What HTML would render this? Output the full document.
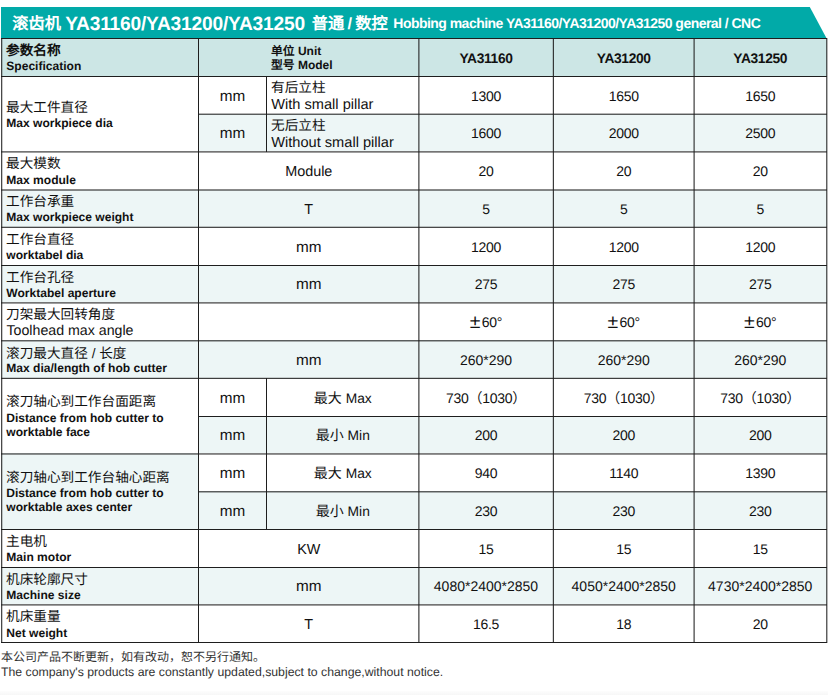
<!DOCTYPE html>
<html lang="zh-CN"><head><meta charset="utf-8"><title>Hobbing machine YA31160/YA31200/YA31250</title>
<style>
html,body{margin:0;padding:0;}
body{width:828px;height:695px;position:relative;overflow:hidden;background:#fff;font-family:"Liberation Sans",sans-serif;color:#111;text-rendering:geometricPrecision;}
.bg{position:absolute;}
.hl{position:absolute;height:1px;background:#1c1c1c;}
.vl{position:absolute;width:1px;background:#1c1c1c;}
.t{position:absolute;white-space:nowrap;line-height:1;}
.c{text-align:center;}
.zh{font-size:13.65px;}
.en{font-size:12.05px;font-weight:bold;}
.r{font-size:14.4px;}
.n{font-size:14px;letter-spacing:-.28px;}
.b{font-weight:bold;}
#title{position:absolute;left:1px;top:7px;width:826px;height:31px;background:#01aaa8;clip-path:polygon(0 0,808.8px 0,825.4px 100%,0 100%);color:#fff;font-weight:bold;white-space:nowrap;}
#title span{position:absolute;line-height:1;}
</style></head>
<body>
<div id="title"><span style="left:11.3px;top:9px;font-size:16.2px">滚齿机</span><span style="left:64.2px;top:8px;font-size:19.2px;letter-spacing:-.2px">YA31160/YA31200/YA31250</span><span style="left:310.8px;top:9px;font-size:16.3px;word-spacing:-1.3px">普通 / 数控</span><span style="left:392.3px;top:9px;font-size:14px;letter-spacing:-.53px">Hobbing machine YA31160/YA31200/YA31250 general / CNC</span></div>
<div class="bg" style="left:1px;top:38px;width:826px;height:38px;background:#cce6e5"></div>
<div class="bg" style="left:198px;top:114px;width:629px;height:37px;background:#edf6f6"></div>
<div class="bg" style="left:1px;top:190px;width:826px;height:37px;background:#edf6f6"></div>
<div class="bg" style="left:1px;top:265px;width:826px;height:37px;background:#edf6f6"></div>
<div class="bg" style="left:1px;top:340px;width:826px;height:38px;background:#edf6f6"></div>
<div class="bg" style="left:198px;top:416px;width:629px;height:37px;background:#edf6f6"></div>
<div class="bg" style="left:1px;top:491px;width:826px;height:38px;background:#edf6f6"></div>
<div class="bg" style="left:1px;top:567px;width:826px;height:37px;background:#edf6f6"></div>
<div class="bg" style="left:1px;top:453px;width:197px;height:76px;background:#edf6f6"></div>
<div class="hl" style="left:1px;top:38px;width:826px;background:rgba(30,30,30,1)"></div>
<div class="hl" style="left:1px;top:76px;width:826px;background:rgba(30,30,30,1)"></div>
<div class="hl" style="left:198px;top:113px;width:629px;background:rgba(30,30,30,0.33)"></div>
<div class="hl" style="left:198px;top:114px;width:629px;background:rgba(30,30,30,0.72)"></div>
<div class="hl" style="left:1px;top:151px;width:826px;background:rgba(30,30,30,0.62)"></div>
<div class="hl" style="left:1px;top:152px;width:826px;background:rgba(30,30,30,0.43)"></div>
<div class="hl" style="left:1px;top:189px;width:826px;background:rgba(30,30,30,0.53)"></div>
<div class="hl" style="left:1px;top:190px;width:826px;background:rgba(30,30,30,0.53)"></div>
<div class="hl" style="left:1px;top:226px;width:826px;background:rgba(30,30,30,0.24)"></div>
<div class="hl" style="left:1px;top:227px;width:826px;background:rgba(30,30,30,0.81)"></div>
<div class="hl" style="left:1px;top:265px;width:826px;background:rgba(30,30,30,1)"></div>
<div class="hl" style="left:1px;top:302px;width:826px;background:rgba(30,30,30,0.62)"></div>
<div class="hl" style="left:1px;top:303px;width:826px;background:rgba(30,30,30,0.43)"></div>
<div class="hl" style="left:1px;top:340px;width:826px;background:rgba(30,30,30,0.71)"></div>
<div class="hl" style="left:1px;top:341px;width:826px;background:rgba(30,30,30,0.34)"></div>
<div class="hl" style="left:1px;top:377px;width:826px;background:rgba(30,30,30,0.19)"></div>
<div class="hl" style="left:1px;top:378px;width:826px;background:rgba(30,30,30,0.86)"></div>
<div class="hl" style="left:198px;top:416px;width:629px;background:rgba(30,30,30,1)"></div>
<div class="hl" style="left:1px;top:453px;width:826px;background:rgba(30,30,30,0.57)"></div>
<div class="hl" style="left:1px;top:454px;width:826px;background:rgba(30,30,30,0.48)"></div>
<div class="hl" style="left:198px;top:491px;width:629px;background:rgba(30,30,30,0.71)"></div>
<div class="hl" style="left:198px;top:492px;width:629px;background:rgba(30,30,30,0.34)"></div>
<div class="hl" style="left:1px;top:529px;width:826px;background:rgba(30,30,30,1)"></div>
<div class="hl" style="left:1px;top:567px;width:826px;background:rgba(30,30,30,1)"></div>
<div class="hl" style="left:1px;top:604px;width:826px;background:rgba(30,30,30,0.62)"></div>
<div class="hl" style="left:1px;top:605px;width:826px;background:rgba(30,30,30,0.43)"></div>
<div class="hl" style="left:1px;top:642px;width:826px;background:rgba(30,30,30,1)"></div>
<div class="vl" style="left:1px;top:38px;height:605px;background:rgba(30,30,30,0.81)"></div>
<div class="vl" style="left:2px;top:38px;height:605px;background:rgba(30,30,30,0.24)"></div>
<div class="vl" style="left:198px;top:38px;height:605px;background:rgba(30,30,30,1)"></div>
<div class="vl" style="left:266px;top:76px;height:76px;background:rgba(30,30,30,1)"></div>
<div class="vl" style="left:266px;top:378px;height:152px;background:rgba(30,30,30,1)"></div>
<div class="vl" style="left:418px;top:38px;height:605px;background:rgba(30,30,30,0.64)"></div>
<div class="vl" style="left:419px;top:38px;height:605px;background:rgba(30,30,30,0.41)"></div>
<div class="vl" style="left:552px;top:38px;height:605px;background:rgba(30,30,30,0.18)"></div>
<div class="vl" style="left:553px;top:38px;height:605px;background:rgba(30,30,30,0.87)"></div>
<div class="vl" style="left:693px;top:38px;height:605px;background:rgba(30,30,30,0.43)"></div>
<div class="vl" style="left:694px;top:38px;height:605px;background:rgba(30,30,30,0.62)"></div>
<div class="vl" style="left:826px;top:38px;height:605px;background:rgba(30,30,30,0.72)"></div>
<div class="vl" style="left:827px;top:38px;height:605px;background:rgba(30,30,30,0.33)"></div>
<div class="t zh b" style="left:6px;top:44px;">参数名称</div>
<div class="t en" style="left:6.3px;top:60px;">Specification</div>
<div class="t zh" style="left:6px;top:100.65px;">最大工件直径</div>
<div class="t en" style="left:6.3px;top:117px;">Max workpiece dia</div>
<div class="t zh" style="left:6px;top:157.25px;">最大模数</div>
<div class="t en" style="left:6.3px;top:174px;">Max module</div>
<div class="t zh" style="left:6px;top:194.8px;">工作台承重</div>
<div class="t en" style="left:6.3px;top:211px;">Max workpiece weight</div>
<div class="t zh" style="left:6px;top:232.75px;">工作台直径</div>
<div class="t en" style="left:6.3px;top:249px;">worktabel dia</div>
<div class="t zh" style="left:6px;top:270.5px;">工作台孔径</div>
<div class="t en" style="left:6.3px;top:287px;">Worktabel aperture</div>
<div class="t zh" style="left:6px;top:307.6px;">刀架最大回转角度</div>
<div class="t r" style="left:6.5px;top:324px;font-size:14.2px">Toolhead max angle</div>
<div class="t zh" style="left:6px;top:347px;">滚刀最大直径 / 长度</div>
<div class="t en" style="left:6.3px;top:362px;">Max dia/length of hob cutter</div>
<div class="t zh" style="left:6px;top:395.35px;">滚刀轴心到工作台面距离</div>
<div class="t en" style="left:6.3px;top:412px;">Distance from hob cutter to</div>
<div class="t en" style="left:6.3px;top:426px;">worktable face</div>
<div class="t zh" style="left:6px;top:470.85px;">滚刀轴心到工作台轴心距离</div>
<div class="t en" style="left:6.3px;top:487px;">Distance from hob cutter to</div>
<div class="t en" style="left:6.3px;top:501px;">worktable axes center</div>
<div class="t zh" style="left:6px;top:534.75px;">主电机</div>
<div class="t en" style="left:6.3px;top:551px;">Main motor</div>
<div class="t zh" style="left:6px;top:572.5px;">机床轮廓尺寸</div>
<div class="t en" style="left:6.3px;top:589px;">Machine size</div>
<div class="t zh" style="left:6px;top:610.25px;">机床重量</div>
<div class="t en" style="left:6.3px;top:627px;">Net weight</div>
<div class="t b" style="left:271px;top:44.8px;font-size:12px"><span style="font-size:11.8px">单位</span> Unit</div>
<div class="t b" style="left:271px;top:58.9px;font-size:12px"><span style="font-size:11.8px">型号</span> Model</div>
<div class="t c b" style="left:419px;width:134px;top:52px;font-size:13.8px;letter-spacing:-.35px">YA31160</div>
<div class="t c b" style="left:554px;width:139.5px;top:52px;font-size:13.8px;letter-spacing:-.35px">YA31200</div>
<div class="t c b" style="left:694.5px;width:131.5px;top:52px;font-size:13.8px;letter-spacing:-.35px">YA31250</div>
<div class="t c r" style="left:199px;width:67px;top:89px;font-size:15.3px">mm</div>
<div class="t c r" style="left:199px;width:67px;top:126px;font-size:15.3px">mm</div>
<div class="t zh" style="left:271px;top:80.95px;">有后立柱</div>
<div class="t r" style="left:271.3px;top:98px;font-size:14.6px">With small pillar</div>
<div class="t zh" style="left:271px;top:118.7px;">无后立柱</div>
<div class="t r" style="left:271.3px;top:136px;font-size:14.6px">Without small pillar</div>
<div class="t c n" style="left:419px;width:134px;top:89px;">1300</div>
<div class="t c n" style="left:554px;width:139.5px;top:89px;">1650</div>
<div class="t c n" style="left:694.5px;width:131.5px;top:89px;">1650</div>
<div class="t c n" style="left:419px;width:134px;top:126px;">1600</div>
<div class="t c n" style="left:554px;width:139.5px;top:126px;">2000</div>
<div class="t c n" style="left:694.5px;width:131.5px;top:126px;">2500</div>
<div class="t c r" style="left:199px;width:219.5px;top:165px;font-size:14.4px">Module</div>
<div class="t c n" style="left:419px;width:134px;top:164px;">20</div>
<div class="t c n" style="left:554px;width:139.5px;top:164px;">20</div>
<div class="t c n" style="left:694.5px;width:131.5px;top:164px;">20</div>
<div class="t c r" style="left:199px;width:219.5px;top:203px;font-size:14.4px">T</div>
<div class="t c n" style="left:419px;width:134px;top:202px;">5</div>
<div class="t c n" style="left:554px;width:139.5px;top:202px;">5</div>
<div class="t c n" style="left:694.5px;width:131.5px;top:202px;">5</div>
<div class="t c r" style="left:199px;width:219.5px;top:240px;font-size:15.3px">mm</div>
<div class="t c n" style="left:419px;width:134px;top:240px;">1200</div>
<div class="t c n" style="left:554px;width:139.5px;top:240px;">1200</div>
<div class="t c n" style="left:694.5px;width:131.5px;top:240px;">1200</div>
<div class="t c r" style="left:199px;width:219.5px;top:277px;font-size:15.3px">mm</div>
<div class="t c n" style="left:419px;width:134px;top:277px;">275</div>
<div class="t c n" style="left:554px;width:139.5px;top:277px;">275</div>
<div class="t c n" style="left:694.5px;width:131.5px;top:277px;">275</div>
<div class="t c n" style="left:419px;width:134px;top:315px;"><span style="font-size:19.5px;line-height:0;position:relative;top:1px;margin-right:1.6px">±</span>60°</div>
<div class="t c n" style="left:554px;width:139.5px;top:315px;"><span style="font-size:19.5px;line-height:0;position:relative;top:1px;margin-right:1.6px">±</span>60°</div>
<div class="t c n" style="left:694.5px;width:131.5px;top:315px;"><span style="font-size:19.5px;line-height:0;position:relative;top:1px;margin-right:1.6px">±</span>60°</div>
<div class="t c r" style="left:199px;width:219.5px;top:353px;font-size:15.3px">mm</div>
<div class="t c n" style="left:419px;width:134px;top:353px;letter-spacing:0">260*290</div>
<div class="t c n" style="left:554px;width:139.5px;top:353px;letter-spacing:0">260*290</div>
<div class="t c n" style="left:694.5px;width:131.5px;top:353px;letter-spacing:0">260*290</div>
<div class="t c r" style="left:199px;width:67px;top:391px;font-size:15.3px">mm</div>
<div class="t c " style="left:267px;width:151.5px;top:391px;font-size:14px">最大 <span style="font-size:13.8px">Max</span></div>
<div class="t c r" style="left:199px;width:67px;top:428px;font-size:15.3px">mm</div>
<div class="t c " style="left:267px;width:151.5px;top:428px;font-size:14px">最小 <span style="font-size:13.8px">Min</span></div>
<div class="t c r" style="left:199px;width:67px;top:466px;font-size:15.3px">mm</div>
<div class="t c " style="left:267px;width:151.5px;top:466px;font-size:14px">最大 <span style="font-size:13.8px">Max</span></div>
<div class="t c r" style="left:199px;width:67px;top:504px;font-size:15.3px">mm</div>
<div class="t c " style="left:267px;width:151.5px;top:504px;font-size:14px">最小 <span style="font-size:13.8px">Min</span></div>
<div class="t c n" style="left:419px;width:134px;top:391px;">730（1030）</div>
<div class="t c n" style="left:554px;width:139.5px;top:391px;">730（1030）</div>
<div class="t c n" style="left:694.5px;width:131.5px;top:391px;">730（1030）</div>
<div class="t c n" style="left:419px;width:134px;top:428px;">200</div>
<div class="t c n" style="left:554px;width:139.5px;top:428px;">200</div>
<div class="t c n" style="left:694.5px;width:131.5px;top:428px;">200</div>
<div class="t c n" style="left:419px;width:134px;top:466px;">940</div>
<div class="t c n" style="left:554px;width:139.5px;top:466px;">1140</div>
<div class="t c n" style="left:694.5px;width:131.5px;top:466px;">1390</div>
<div class="t c n" style="left:419px;width:134px;top:504px;">230</div>
<div class="t c n" style="left:554px;width:139.5px;top:504px;">230</div>
<div class="t c n" style="left:694.5px;width:131.5px;top:504px;">230</div>
<div class="t c r" style="left:199px;width:219.5px;top:543px;font-size:14.4px">KW</div>
<div class="t c n" style="left:419px;width:134px;top:542px;">15</div>
<div class="t c n" style="left:554px;width:139.5px;top:542px;">15</div>
<div class="t c n" style="left:694.5px;width:131.5px;top:542px;">15</div>
<div class="t c r" style="left:199px;width:219.5px;top:579px;font-size:15.3px">mm</div>
<div class="t c n" style="left:419px;width:134px;top:579px;letter-spacing:0">4080*2400*2850</div>
<div class="t c n" style="left:554px;width:139.5px;top:579px;letter-spacing:0">4050*2400*2850</div>
<div class="t c n" style="left:694.5px;width:131.5px;top:579px;letter-spacing:0">4730*2400*2850</div>
<div class="t c r" style="left:199px;width:219.5px;top:618px;font-size:14.4px">T</div>
<div class="t c n" style="left:419px;width:134px;top:617px;">16.5</div>
<div class="t c n" style="left:554px;width:139.5px;top:617px;">18</div>
<div class="t c n" style="left:694.5px;width:131.5px;top:617px;">20</div>
<div class="t " style="left:0.9px;top:650.6px;font-size:12px;color:#333">本公司产品不断更新，如有改动，恕不另行通知。</div>
<div class="t " style="left:1px;top:666px;font-size:12.28px;color:#333">The company's products are constantly updated,subject to change,without notice.</div>
<div class="bg" style="left:0;top:691px;width:828px;height:4px;background:linear-gradient(#fdfdfd,#f7f7f7)"></div>
</body></html>
